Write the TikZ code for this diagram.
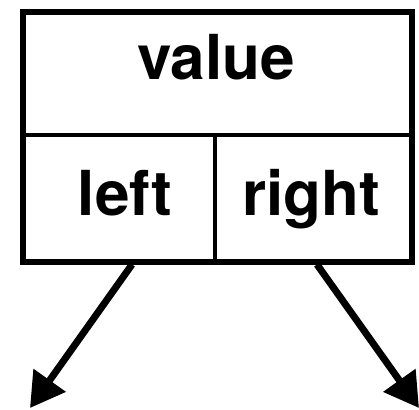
\documentclass[tikz,border=0pt]{standalone}
\usepackage{fontspec}
\setmainfont{TeX Gyre Heros}
\usetikzlibrary{arrows.meta}
\begin{document}
\begin{tikzpicture}[x=1pt,y=-1pt,
  frame/.style={line width=6pt,line join=miter},
  divider/.style={line width=4pt},
  lbl/.style={anchor=base,inner sep=0pt,font=\fontsize{62}{62}\selectfont\bfseries},
  ptr/.style={line width=7pt,-{Triangle[length=34pt,width=38pt]}}]
\useasboundingbox (0,0) rectangle (419,409);
\draw[frame] (23,12) rectangle (411.5,261.5);
\draw[divider] (23,135) -- (411.5,135);
\draw[divider] (215,135) -- (215,261.5);
\node[lbl] (value) at (216,80) {value};
\node[lbl] (left) at (125,215) {left};
\node[lbl] (right) at (311,215) {right};
\coordinate (ls) at (132,264.5);
\coordinate (le) at (30,408);
\coordinate (rs) at (317,264.5);
\coordinate (re) at (419,408);
\draw[ptr] (ls) -- (le);
\draw[ptr] (rs) -- (re);
\end{tikzpicture}
\end{document}
